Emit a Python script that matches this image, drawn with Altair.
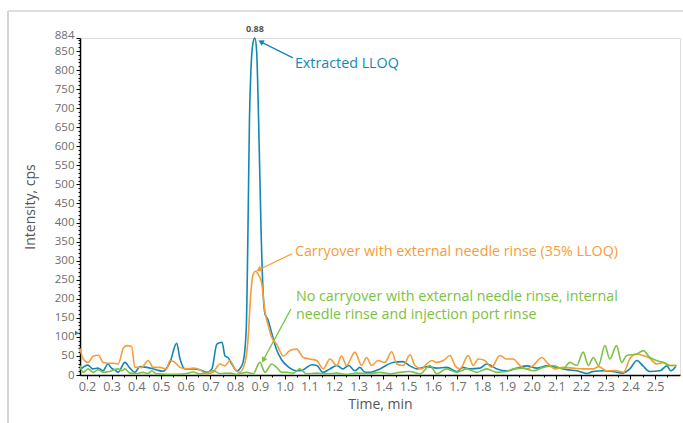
import altair as alt
import pandas as pd

# ---- chromatogram traces (time in min, intensity in cps) ----
lloq_t = [0.172, 0.204, 0.224, 0.245, 0.265, 0.285, 0.301, 0.313, 0.326, 0.354, 0.374, 0.394,
          0.415, 0.443, 0.463, 0.484, 0.508, 0.536, 0.563, 0.577, 0.597, 0.630, 0.657, 0.686,
          0.706, 0.726, 0.747, 0.759, 0.771, 0.787, 0.807, 0.819, 0.832, 0.845, 0.852, 0.858,
          0.864, 0.872, 0.880, 0.887, 0.895, 0.905, 0.913, 0.921, 0.933, 0.948, 0.968, 0.988,
          1.014, 1.049, 1.070, 1.090, 1.110, 1.131, 1.155, 1.184, 1.212, 1.236, 1.260, 1.285,
          1.305, 1.326, 1.346, 1.386, 1.439, 1.479, 1.508, 1.536, 1.577, 1.617, 1.657, 1.698,
          1.722, 1.751, 1.791, 1.819, 1.860, 1.900, 1.941, 1.981, 2.022, 2.062, 2.103, 2.143,
          2.184, 2.224, 2.249, 2.289, 2.330, 2.370, 2.398, 2.427, 2.451, 2.479, 2.520, 2.548,
          2.564, 2.584]
lloq_v = [14, 26, 16, 18, 11, 29, 17, 14, 7, 33, 18, 7,
          22, 20, 17, 13, 10, 33, 83, 42, 16, 16, 14, 7,
          16, 81, 86, 50, 46, 29, 11, 16, 33, 120, 380, 670,
          800, 870, 884, 850, 670, 380, 220, 160, 145, 110, 66, 40,
          22, 11, 12, 20, 27, 25, 7, 16, 25, 16, 25, 11,
          20, 7, 7, 16, 33, 35, 24, 16, 22, 18, 20, 9,
          20, 16, 18, 29, 16, 11, 18, 24, 18, 24, 20, 14,
          11, 4, 9, 11, 9, 5, 16, 38, 24, 9, 11, 24,
          11, 22]

carry_t = [0.172, 0.185, 0.205, 0.226, 0.246, 0.266, 0.286, 0.306, 0.327, 0.347, 0.361, 0.381,
           0.394, 0.421, 0.448, 0.468, 0.496, 0.523, 0.536, 0.556, 0.577, 0.604, 0.630, 0.657,
           0.685, 0.711, 0.738, 0.759, 0.779, 0.799, 0.819, 0.840, 0.853, 0.862, 0.872, 0.883,
           0.895, 0.907, 0.921, 0.934, 0.948, 0.968, 0.995, 1.022, 1.049, 1.076, 1.103, 1.130,
           1.157, 1.184, 1.211, 1.231, 1.251, 1.285, 1.312, 1.332, 1.353, 1.379, 1.406, 1.434,
           1.454, 1.481, 1.508, 1.528, 1.555, 1.575, 1.596, 1.616, 1.643, 1.670, 1.690, 1.710,
           1.744, 1.764, 1.784, 1.811, 1.838, 1.872, 1.899, 1.926, 1.953, 1.980, 2.007, 2.041,
           2.068, 2.095, 2.128, 2.169, 2.209, 2.250, 2.271, 2.304, 2.344, 2.372, 2.399, 2.426,
           2.452, 2.479, 2.506, 2.533, 2.560, 2.587]
carry_v = [70, 42, 33, 50, 52, 33, 31, 31, 29, 70, 77, 75,
           20, 20, 38, 20, 20, 16, 38, 33, 20, 16, 18, 14,
           3, 7, 29, 24, 38, 16, 7, 33, 100, 200, 262, 272,
           262, 243, 165, 130, 99, 81, 50, 64, 68, 46, 42, 38,
           16, 42, 25, 50, 25, 60, 25, 46, 25, 38, 33, 61,
           29, 25, 53, 25, 16, 29, 38, 33, 38, 51, 25, 16,
           51, 25, 42, 38, 20, 51, 42, 42, 25, 16, 25, 46,
           29, 16, 20, 18, 16, 16, 22, 11, 11, 7, 44, 55,
           51, 44, 29, 33, 25, 25]

clean_t = [0.172, 0.185, 0.205, 0.226, 0.246, 0.266, 0.293, 0.327, 0.340, 0.354, 0.374, 0.401,
           0.428, 0.448, 0.462, 0.482, 0.523, 0.563, 0.604, 0.630, 0.657, 0.685, 0.711, 0.738,
           0.779, 0.806, 0.847, 0.873, 0.900, 0.921, 0.948, 0.968, 0.988, 1.008, 1.035, 1.062,
           1.089, 1.130, 1.170, 1.211, 1.251, 1.292, 1.346, 1.386, 1.427, 1.467, 1.508, 1.548,
           1.589, 1.616, 1.656, 1.697, 1.737, 1.778, 1.818, 1.859, 1.899, 1.926, 1.966, 2.007,
           2.047, 2.088, 2.128, 2.155, 2.183, 2.209, 2.230, 2.250, 2.271, 2.297, 2.317, 2.344,
           2.365, 2.385, 2.426, 2.452, 2.479, 2.506, 2.533, 2.560, 2.587]
clean_v = [25, 7, 16, 7, 14, 7, 10, 16, 11, 16, 5, 4,
           7, 4, 11, 3, 2, 2, 4, 8, 3, 7, 11, 4,
           5, 2, 7, 3, 33, 7, 29, 20, 7, 7, 5, 16,
           3, 5, 3, 5, 2, 5, 4, 7, 3, 7, 9, 3,
           25, 3, 16, 7, 16, 7, 16, 7, 9, 16, 18, 11,
           20, 25, 16, 33, 25, 60, 25, 46, 25, 77, 42, 77,
           33, 51, 55, 64, 46, 38, 33, 25, 25]

# ---- axes ----
x_ticks = [0.2, 0.3, 0.4, 0.5, 0.6, 0.7, 0.8, 0.9, 1.0, 1.1, 1.2, 1.3,
           1.4, 1.5, 1.6, 1.7, 1.8, 1.9, 2.0, 2.1, 2.2, 2.3, 2.4, 2.5]
x_minor = [0.25, 0.35, 0.45, 0.55, 0.65, 0.75, 0.85, 0.95, 1.05, 1.15, 1.25, 1.35,
           1.45, 1.55, 1.65, 1.75, 1.85, 1.95, 2.05, 2.15, 2.25, 2.35, 2.45, 2.55]
y_ticks = [0, 50, 100, 150, 200, 250, 300, 350, 400, 450, 500, 550, 600, 650,
           700, 750, 800, 850, 884]
y_minor = [v for v in range(0, 881, 10)]

BLUE = "#1188b3"
ORANGE = "#f89c36"
GREEN = "#7cc243"
LABEL = "#6e6e6e"
FONT = "Open Sans"

x_scale = alt.Scale(domain=[0.172, 2.601], nice=False, zero=False)
y_scale = alt.Scale(domain=[0, 884], nice=False)

x_axis = alt.Axis(values=x_ticks, format=".1f", title="Time, min", orient="bottom",
                  labelFont=FONT, labelFontSize=12.5, labelColor=LABEL, labelPadding=1,
                  titleFont=FONT, titleFontSize=14, titleColor="#555555", titleFontWeight="normal",
                  titlePadding=5, domainColor="black", domainWidth=1.5, tickColor="black",
                  tickSize=4, grid=False, labelOverlap=False)
# the top label (884) sits just above 850, so spread the pair apart a little
y_axis = alt.Axis(values=y_ticks, title="Intensity, cps", orient="left",
                  labelFont=FONT, labelFontSize=11.5, labelColor=LABEL, labelPadding=2,
                  labelOffset={"condition": [{"test": "datum.value == 884", "value": -3},
                                             {"test": "datum.value == 850", "value": 1}],
                               "value": 0},
                  titleFont=FONT, titleFontSize=14, titleColor="#555555", titleFontWeight="normal",
                  titlePadding=17, domainColor="black", domainWidth=1.5, tickColor="black",
                  tickSize=4, grid=False, labelOverlap=False)
x_axis_minor = alt.Axis(values=x_minor, orient="bottom", labels=False, title=None, domain=False,
                        tickColor="black", tickSize=2, grid=False)
y_axis_minor = alt.Axis(values=y_minor, orient="left", labels=False, title=None, domain=False,
                        tickColor="black", tickSize=2, grid=False)


def trace(t, v, color, axes=False):
    df = pd.DataFrame({"t": t, "v": v})
    return alt.Chart(df).mark_line(color=color, strokeWidth=1.6, interpolate="monotone").encode(
        x=alt.X("t:Q", scale=x_scale, axis=x_axis if axes else None),
        y=alt.Y("v:Q", scale=y_scale, axis=y_axis if axes else None),
    )


lloq = trace(lloq_t, lloq_v, BLUE, axes=True)
carry = trace(carry_t, carry_v, ORANGE)
clean = trace(clean_t, clean_v, GREEN)

minor_ticks = alt.Chart(pd.DataFrame({"t": [0.172], "v": [0]})).mark_point(opacity=0).encode(
    x=alt.X("t:Q", scale=x_scale, axis=x_axis_minor),
    y=alt.Y("v:Q", scale=y_scale, axis=y_axis_minor),
)

# ---- annotations ----
notes = pd.DataFrame({
    "label": ["Extracted LLOQ",
              "Carryover with external needle rinse (35% LLOQ)",
              "No carryover with external needle rinse, internal",
              "needle rinse and injection port rinse"],
    "t": [1.042, 1.042, 1.046, 1.046],
    "v": [816, 323, 205, 158],
    "color": [BLUE, ORANGE, GREEN, GREEN],
})
note_text = alt.Chart(notes).mark_text(align="left", baseline="middle", font=FONT,
                                       fontSize=14.3).encode(
    x=alt.X("t:Q", scale=x_scale, axis=None),
    y=alt.Y("v:Q", scale=y_scale, axis=None),
    text="label:N",
    color=alt.Color("color:N", scale=None),
)

arrows = pd.DataFrame({
    "t0": [1.034, 1.030, 1.026],
    "v0": [832, 318, 173],
    "t1": [0.904, 0.896, 0.914],
    "v1": [874, 276, 39],
    "angle": [297, 244, 209],
    "color": [BLUE, ORANGE, GREEN],
})
arrow_shaft = alt.Chart(arrows).mark_rule(strokeWidth=1.3).encode(
    x=alt.X("t0:Q", scale=x_scale, axis=None),
    y=alt.Y("v0:Q", scale=y_scale, axis=None),
    x2="t1:Q", y2="v1:Q",
    color=alt.Color("color:N", scale=None),
)
arrow_head = alt.Chart(arrows).mark_point(shape="triangle-up", filled=True, size=40,
                                          opacity=1).encode(
    x=alt.X("t1:Q", scale=x_scale, axis=None),
    y=alt.Y("v1:Q", scale=y_scale, axis=None),
    angle=alt.Angle("angle:Q", scale=None),
    color=alt.Color("color:N", scale=None),
)

peak = pd.DataFrame({"t": [0.88], "v": [884], "label": ["0.88"]})
peak_label = alt.Chart(peak).mark_text(baseline="bottom", dy=-4, font=FONT, fontSize=9,
                                       fontWeight="bold", color="#555555").encode(
    x=alt.X("t:Q", scale=x_scale, axis=None),
    y=alt.Y("v:Q", scale=y_scale, axis=None),
    text="label:N",
)

# small marker on the intensity axis
marker = alt.Chart(pd.DataFrame({"t": [0.172], "v": [110]})).mark_point(
    shape="triangle-right", filled=True, size=22, color=BLUE, opacity=1, xOffset=-3).encode(
    x=alt.X("t:Q", scale=x_scale, axis=None),
    y=alt.Y("v:Q", scale=y_scale, axis=None),
)

# light frame around the figure
frame_df = pd.DataFrame({"k": [0]})
frame_left = alt.Chart(frame_df).mark_rule(color="#d4d4d4", strokeWidth=2).encode(
    x=alt.value(-72), y=alt.value(-27), y2=alt.value(390))
frame_top = alt.Chart(frame_df).mark_rule(color="#d4d4d4", strokeWidth=1.5).encode(
    x=alt.value(-72), x2=alt.value(610), y=alt.value(-27))

chart = alt.layer(
    frame_left, frame_top, minor_ticks, lloq, carry, clean,
    arrow_shaft, arrow_head, note_text, peak_label, marker,
).resolve_axis(x="independent", y="independent").properties(
    width=600, height=337,
    autosize=alt.AutoSizeParams(type="none"),
    padding={"left": 80, "top": 38, "right": 3, "bottom": 48},
).configure_view(stroke=None).configure(background="white")

chart.save("out.html", embed_options={"renderer": "svg", "actions": False})
